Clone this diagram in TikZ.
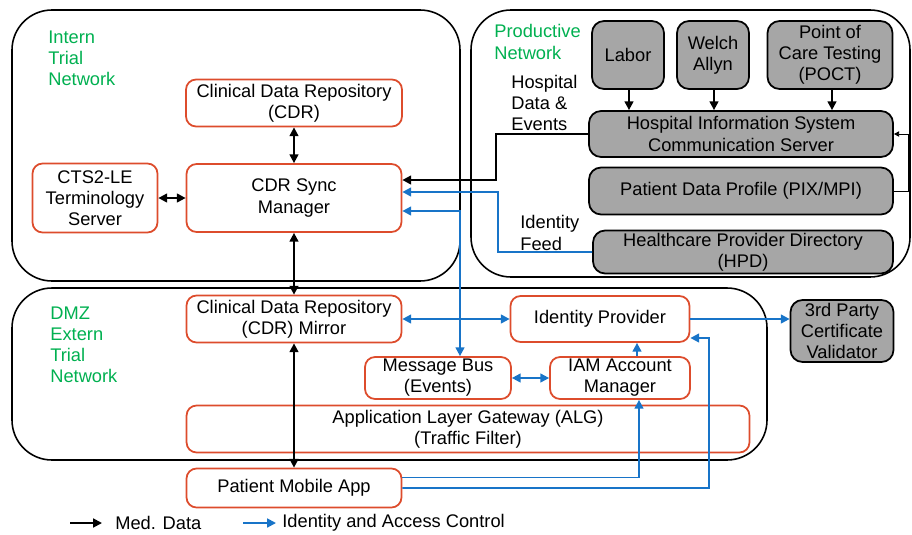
\documentclass[tikz,border=0pt]{standalone}
\usepackage{fontspec}
\setmainfont{Liberation Sans}
\usetikzlibrary{arrows.meta}
\definecolor{boxred}{RGB}{221,76,44}
\definecolor{idblue}{RGB}{24,116,200}
\definecolor{netgreen}{RGB}{0,176,80}
\definecolor{hosgrey}{RGB}{166,166,166}
\begin{document}
\begin{tikzpicture}[x=0.02cm,y=-0.02cm,>={Triangle[length=5pt,width=5pt]},
  every node/.style={font=\fontsize{10.4}{12}\selectfont},
  zone/.style={draw,line width=0.9pt,rounded corners=0.8cm},
  redbox/.style={draw=boxred,line width=1pt,fill=white,rounded corners=0.2cm,align=center,inner sep=1pt},
  greybox/.style={draw,line width=1pt,fill=hosgrey,rounded corners=0.24cm,align=center,inner sep=1pt},
  net/.style={text=netgreen,align=left,anchor=west,inner sep=0pt},
  note/.style={align=left,anchor=west,inner sep=0pt},
  med/.style={line width=1.1pt,->},
  iam/.style={idblue,line width=1.1pt,->}]
\useasboundingbox (0,0) rectangle (912,534);

% network zones
\draw[zone] (12,10) rectangle (460,281);
\draw[zone] (471,10) rectangle (910,277);
\draw[zone] (12,288) rectangle (767,460);
\node[net] (intern) at (48,58) {Intern\\Trial\\Network};
\node[net] (prod) at (494,42) {Productive\\Network};
\node[net] (dmz) at (50,345) {DMZ\\Extern\\Trial\\Network};

% intern trial network
\node[redbox,minimum width=4.32cm,minimum height=0.94cm] (cdr) at (294,103) {Clinical Data Repository\\(CDR)};
\node[redbox,minimum width=4.30cm,minimum height=1.36cm] (sync) at (294,198) {CDR Sync\\Manager};
\node[redbox,minimum width=2.50cm,minimum height=1.38cm] (cts) at (95,198) {CTS2-LE\\Terminology\\Server};

% productive network
\node[greybox,minimum width=1.44cm,minimum height=1.36cm] (labor) at (628,55) {Labor};
\node[greybox,minimum width=1.44cm,minimum height=1.36cm] (welch) at (713,55) {Welch\\Allyn};
\node[greybox,minimum width=2.50cm,minimum height=1.36cm] (poct) at (830,55) {Point of\\Care Testing\\(POCT)};
\node[greybox,minimum width=6.08cm,minimum height=0.92cm] (his) at (741,134) {Hospital Information System\\Communication Server};
\node[greybox,minimum width=6.08cm,minimum height=0.94cm] (pdp) at (741,191) {Patient Data Profile (PIX/MPI)};
\node[greybox,minimum width=6.00cm,minimum height=0.86cm] (hpd) at (743,252) {Healthcare Provider Directory\\(HPD)};
\node[note] (hde) at (511,103) {Hospital\\Data \&\\Events};
\node[note] (idf) at (520,233) {Identity\\Feed};

% dmz
\node[redbox,minimum width=4.30cm,minimum height=0.94cm] (mirror) at (294,319) {Clinical Data Repository\\(CDR) Mirror};
\node[redbox,minimum width=3.58cm,minimum height=0.92cm] (idp) at (600,319) {Identity Provider};
\node[redbox,minimum width=2.92cm,minimum height=0.84cm] (bus) at (438,378) {Message Bus\\(Events)};
\node[redbox,minimum width=2.80cm,minimum height=0.84cm] (iamm) at (620,378) {IAM Account\\Manager};
\node[redbox,minimum width=11.26cm,minimum height=0.94cm] (alg) at (468,429) {Application Layer Gateway (ALG)\\(Traffic Filter)};

% outside
\node[redbox,minimum width=4.30cm,minimum height=0.78cm] (app) at (294,488) {Patient Mobile App};
\node[greybox,minimum width=2.06cm,minimum height=1.24cm] (ca) at (842,331) {3rd Party\\Certificate\\Validator};

% medical data
\draw[med,<->] (cdr) -- (sync);
\draw[med,<->] (cts) -- (sync);
\draw[med,<->] (sync) -- (mirror);
\draw[med,<->] (mirror) -- (app);
\draw[med] ([xshift=0.02cm]labor.south) -- ([xshift=0.02cm]labor.south |- his.north);
\draw[med] ([xshift=0.02cm]welch.south) -- ([xshift=0.02cm]welch.south |- his.north);
\draw[med] ([xshift=0.04cm]poct.south) -- ([xshift=0.04cm]poct.south |- his.north);
\draw[med] (his.west) -| (496,180) -- ([yshift=0.36cm]sync.east);
\draw[line width=0.5pt,-{Triangle[length=3pt,width=3pt]}] (pdp.east) -- (908,191) |- (his.east);

% identity and access
\draw[iam] (hpd.west) -| (498,192) -- ([yshift=0.12cm]sync.east);
\draw[iam,<->] ([yshift=-0.26cm]sync.east) -| ([xshift=0.44cm]bus.north);
\draw[iam,<->] (mirror) -- (idp);
\draw[iam] (idp.east) -- (idp.east -| ca.west);
\draw[iam] ([xshift=0.34cm]iamm.north) -- ([xshift=0.34cm]iamm.north |- idp.south);
\draw[iam,<->] (bus) -- (iamm);
\draw[iam] ([yshift=0.21cm]app.east) -| ([xshift=0.38cm]iamm.south);
\draw[iam] (app.east) -| (709,338) -- ([yshift=-0.38cm]idp.east);

% legend
\node[note] (lgmed) at (115,523) {Med. Data};
\node[note] (lgiam) at (282,523) {Identity and Access Control};
\coordinate (lgm) at (70,523);
\coordinate (lgi) at (243,523);
\draw[med] (lgm) -- ([xshift=-0.26cm]lgmed.west);
\draw[iam] (lgi) -- ([xshift=-0.12cm]lgiam.west);
\end{tikzpicture}
\end{document}
